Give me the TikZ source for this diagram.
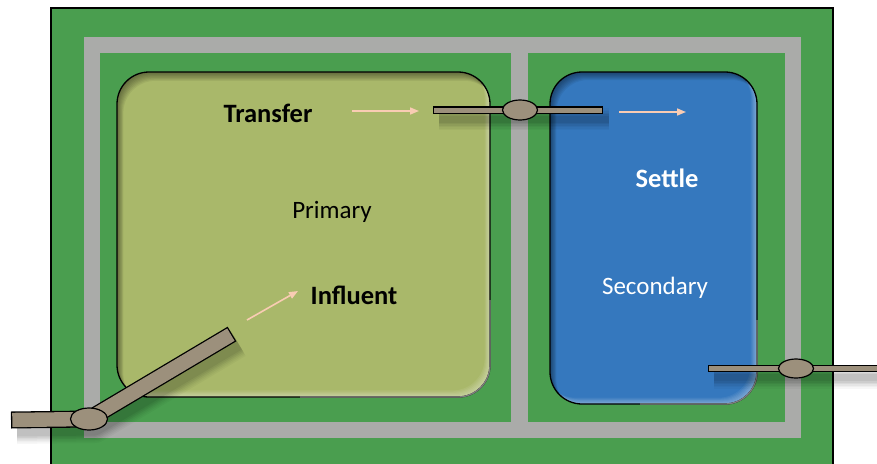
\documentclass[tikz,border=0pt]{standalone}
\usepackage{fontspec}
\setmainfont{Carlito}
\usetikzlibrary{shapes.geometric,arrows.meta}
\definecolor{grass}{HTML}{4A9E4F}
\definecolor{road}{HTML}{AAABA9}
\definecolor{prim}{HTML}{A9B86A}
\definecolor{sec}{HTML}{3578BE}
\definecolor{pipe}{HTML}{9C907C}
\definecolor{flow}{HTML}{F9CCB3}
\newcommand\primbox{(117,72) rectangle (490,397)}
\newcommand\secbox{(550,72) rectangle (757,404)}
\begin{document}
\begin{tikzpicture}[x=1pt,y=-1pt,
  basin/.style={rounded corners=32pt},
  lbl/.style={font=\fontsize{25}{28}\selectfont, inner sep=0pt},
  lblb/.style={inner sep=0pt, font=\fontsize{26.5}{29}\selectfont\bfseries},
  flowarrow/.style={flow, line width=1.6pt, -{Triangle[length=9pt,width=7pt]}},
  valve/.style={ellipse, draw=black, line width=1.2pt, fill=pipe, inner sep=0pt},
  roadline/.style={road, line width=16.5pt},
  pshadow/.style={black, opacity=#1, transform canvas={xshift=6pt, yshift=-9pt}}]
\useasboundingbox (0,0) rectangle (877,463);
\fill[white] (0,0) rectangle (877,463);
% ground
\filldraw[fill=grass, draw=black, line width=1.5pt] (51,8) rectangle (833,470);
% roads
\draw[roadline] (92,45) rectangle (793,430);
\draw[roadline, line cap=butt] (519.5,45) -- (519.5,430);
% basins
\node[basin, fill=prim, minimum width=373pt, minimum height=325pt] (primary) at (303.5,234.5) {};
\node[basin, fill=sec, minimum width=207pt, minimum height=332pt] (secondary) at (653.5,238) {};
% inner shading primary
\begin{scope}
\clip[rounded corners=32pt] \primbox;
\foreach \s in {1,...,8} {
  \fill[black, opacity=0.06, even odd rule, shift={(\s*0.8,\s*1.1)}] (-200,-200) rectangle (1100,700) [rounded corners=32pt] \primbox;}
\foreach \s in {1,...,6} {
  \fill[white, opacity=0.07, even odd rule, shift={(-\s*0.9,-\s*1.1)}] (-200,-200) rectangle (1100,700) [rounded corners=32pt] \primbox;}
\end{scope}
\draw[black, line width=1.3pt, rounded corners=32pt] \primbox;
\draw[gray, line width=1.3pt, rounded corners=32pt] (490,300) -- (490,397) -- (300,397);
% inner shading secondary
\begin{scope}
\clip[rounded corners=32pt] \secbox;
\foreach \s in {1,...,8} {
  \fill[black, opacity=0.06, even odd rule, shift={(\s*0.8,\s*1.0)}] (-200,-200) rectangle (1100,700) [rounded corners=32pt] \secbox;}
\foreach \s in {1,...,7} {
  \fill[white, opacity=0.06, even odd rule, shift={(-\s*0.9,-\s*0.9)}] (-200,-200) rectangle (1100,700) [rounded corners=32pt] \secbox;}
\end{scope}
\draw[black, line width=1.3pt, rounded corners=32pt] \secbox;
\draw[gray, line width=1.3pt, rounded corners=32pt] (757,320) -- (757,404) -- (640,404);
% labels
\node[lblb] (transfer) at (268,113) {Transfer};
\node[lbl] (primlbl) at (332,212) {Primary};
\node[lblb] (influent) at (354,295) {Influent};
\node[lblb, white] (settle) at (667,178) {Settle};
\node[lbl, white] (seclbl) at (655,288) {Secondary};
% flow arrows
\coordinate (a1) at (352,111); \coordinate (a2) at (419,111);
\coordinate (b1) at (619,112); \coordinate (b2) at (686,112);
\coordinate (c1) at (247,320); \coordinate (c2) at (298,291);
\draw[flowarrow] (a1) -- (a2);
\draw[flowarrow] (b1) -- (b2);
\draw[flowarrow] (c1) -- (c2);
% pipe coordinates
\coordinate (t1) at (433,110); \coordinate (t2) at (603,110);
\coordinate (r1) at (708,368.5); \coordinate (r2) at (885,368.5);
\coordinate (l1) at (11,420); \coordinate (lc) at (89,419); \coordinate (l2) at (232,334);
% pipe shadows
\foreach \w/\o in {22/0.03,19/0.03,16/0.04,13/0.05,10/0.05,7/0.06} {
  \draw[pshadow=\o, line width=\w pt] (t1) -- (t2);
  \draw[pshadow=\o, line width=\w pt] (r1) -- (r2);
  \draw[pshadow=\o, line width=\w pt+8pt, line join=round] (l1) -- (lc) -- (l2);
}
% pipes
\draw[black, line width=7.5pt] (t1) -- (t2);
\draw[pipe, line width=5pt, shorten <=1.2pt, shorten >=1.2pt] (t1) -- (t2);
\draw[black, line width=7pt] (r1) -- (r2);
\draw[pipe, line width=4.5pt, shorten <=1.2pt] (r1) -- (r2);
\draw[black, line width=17pt] (l1) -- (lc);
\draw[pipe, line width=14.4pt, shorten <=1.3pt] (l1) -- (lc);
\draw[black, line width=17pt] (lc) -- (l2);
\draw[pipe, line width=14.4pt, shorten >=1.3pt] (lc) -- (l2);
% valves
\node[valve, minimum width=37pt, minimum height=22pt] (v1) at (lc) {};
\node[valve, minimum width=35pt, minimum height=20pt] (v2) at (520,110) {};
\node[valve, minimum width=35pt, minimum height=19pt] (v3) at (796,368.5) {};
\end{tikzpicture}
\end{document}
